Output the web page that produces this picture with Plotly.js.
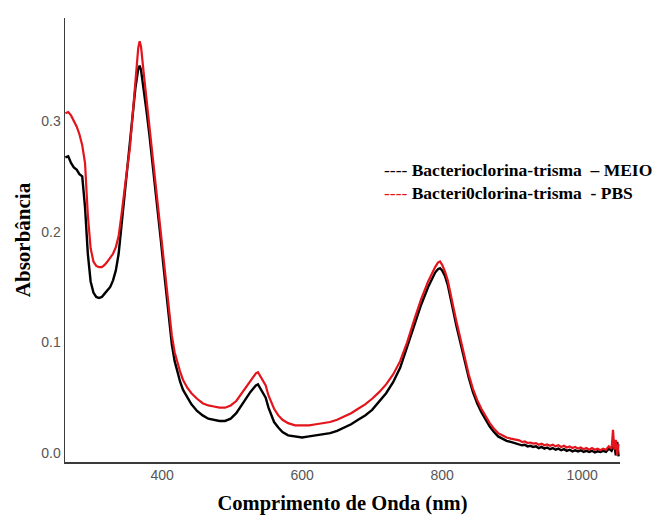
<!DOCTYPE html>
<html>
<head>
<meta charset="utf-8">
<script src="https://cdn.plot.ly/plotly-3.0.1.min.js"></script>
<style>html,body{margin:0;padding:0;background:#fff;}#chart{width:661px;height:515px;}</style>
</head>
<body>
<div id="chart"></div>
<script>
// Wavelength (nm)
const wavelength = [262,266,270,274,278,282,286,290,294,298,302,306,310,314,318,322,326,330,334,338,342,346,350,354,358,362,366,368,370,374,378,382,386,390,394,398,402,406,410,414,418,422,426,430,436,442,450,458,466,474,482,490,498,506,514,520,526,530,534,537,540,544,548,552,556,560,566,572,580,590,600,610,620,630,640,650,660,670,680,690,700,710,720,730,740,750,760,770,780,786,790,794,797,800,804,808,812,816,820,826,832,838,844,850,856,862,868,874,880,886,892,898,904,910,914,918,922,926,930,934,938,942,946,950,954,958,962,966,970,974,978,982,986,990,994,998,1002,1006,1010,1014,1018,1022,1026,1030,1034,1038,1042,1044,1046,1048,1050,1052];

// Bacterioclorina-trisma – MEIO (black)
const absMeio = [0.267,0.268,0.262,0.258,0.256,0.252,0.250,0.222,0.180,0.155,0.145,0.141,0.140,0.141,0.144,0.147,0.150,0.156,0.165,0.180,0.205,0.235,0.258,0.280,0.305,0.330,0.347,0.350,0.346,0.328,0.308,0.287,0.265,0.243,0.220,0.194,0.169,0.144,0.118,0.098,0.083,0.072,0.064,0.057,0.050,0.044,0.038,0.034,0.031,0.030,0.029,0.029,0.031,0.036,0.044,0.050,0.055,0.058,0.061,0.062,0.059,0.055,0.050,0.041,0.034,0.028,0.023,0.019,0.016,0.015,0.014,0.015,0.016,0.017,0.018,0.020,0.023,0.026,0.030,0.034,0.039,0.046,0.054,0.064,0.077,0.096,0.116,0.134,0.150,0.158,0.163,0.166,0.167,0.165,0.160,0.152,0.141,0.128,0.116,0.099,0.082,0.068,0.055,0.045,0.037,0.030,0.024,0.019,0.015,0.013,0.011,0.010,0.009,0.008,0.007,0.0075,0.006,0.0065,0.0055,0.006,0.0045,0.0055,0.004,0.005,0.0035,0.0045,0.003,0.004,0.0025,0.0035,0.002,0.003,0.0015,0.0025,0.0015,0.0025,0.001,0.002,0.001,0.002,0.0005,0.0015,0.001,0.002,0.001,0.004,0.002,0.005,0.008,-0.002,0.010,-0.003];

// Bacteri0clorina-trisma - PBS (red)
const absPbs = [0.307,0.308,0.305,0.300,0.295,0.288,0.278,0.262,0.215,0.185,0.173,0.169,0.168,0.168,0.170,0.173,0.176,0.180,0.186,0.196,0.215,0.237,0.256,0.275,0.305,0.338,0.366,0.372,0.367,0.342,0.318,0.294,0.271,0.248,0.224,0.198,0.175,0.150,0.125,0.106,0.091,0.081,0.073,0.066,0.059,0.054,0.049,0.045,0.043,0.042,0.041,0.041,0.043,0.047,0.054,0.060,0.065,0.069,0.072,0.073,0.070,0.066,0.061,0.052,0.046,0.040,0.034,0.030,0.027,0.025,0.025,0.025,0.026,0.027,0.028,0.030,0.033,0.036,0.040,0.044,0.049,0.055,0.062,0.071,0.083,0.100,0.120,0.139,0.155,0.163,0.168,0.172,0.173,0.170,0.164,0.156,0.145,0.132,0.120,0.103,0.086,0.071,0.058,0.048,0.040,0.033,0.027,0.022,0.018,0.016,0.014,0.013,0.012,0.0115,0.010,0.0105,0.009,0.0095,0.0085,0.009,0.0075,0.0085,0.007,0.0078,0.0065,0.0075,0.006,0.007,0.0055,0.0065,0.005,0.006,0.0045,0.0055,0.004,0.005,0.0035,0.0045,0.003,0.0045,0.003,0.004,0.0025,0.004,0.003,0.006,0.004,0.021,0.003,0.012,-0.002,0.008];

const seriesNames = ['Bacterioclorina-trisma\u00a0\u00a0– MEIO', 'Bacteri0clorina-trisma\u00a0\u00a0- PBS'];
const xTicks = [400, 600, 800, 1000];
const yTicks = [0.0, 0.1, 0.2, 0.3];
const yTickText = ['0.0', '0.1', '0.2', '0.3'];

const traces = [
  {x: wavelength, y: absMeio, type: 'scatter', mode: 'lines', name: seriesNames[0],
   line: {color: '#000000', width: 2.4}, showlegend: false},
  {x: wavelength, y: absPbs, type: 'scatter', mode: 'lines', name: seriesNames[1],
   line: {color: '#e3141b', width: 2.2}, showlegend: false}
];

const serif = 'Times New Roman, Liberation Serif, DejaVu Serif, serif';
const legendFont = {family: serif, size: 17.5, color: '#000', weight: 'bold'};
const layout = {
  width: 661, height: 515,
  margin: {l: 65, r: 41, t: 18, b: 53},
  paper_bgcolor: '#fff', plot_bgcolor: '#fff',
  xaxis: {
    range: [261.4, 1054], tickvals: xTicks, ticks: '', showgrid: false, zeroline: false,
    showline: true, linecolor: '#3a3a3a', linewidth: 1.5,
    tickfont: {family: 'Arial, Liberation Sans, sans-serif', size: 14, color: '#555'},
    title: {text: 'Comprimento de Onda (nm)', standoff: 16,
            font: {family: serif, size: 20.5, color: '#000', weight: 'bold'}}
  },
  yaxis: {
    range: [-0.0081, 0.393], tickvals: yTicks, ticktext: yTickText, ticks: '', showgrid: false, zeroline: false,
    showline: true, linecolor: '#3a3a3a', linewidth: 1.5,
    tickfont: {family: 'Arial, Liberation Sans, sans-serif', size: 14, color: '#555'},
    title: {text: 'Absorbância', standoff: 5,
            font: {family: serif, size: 21, color: '#000', weight: 'bold'}}
  },
  annotations: [
    {xref: 'paper', yref: 'paper', x: 0.572, y: 0.657, xanchor: 'left', yanchor: 'middle', showarrow: false,
     text: '<span style="color:#000;font-weight:normal">----</span> ' + seriesNames[0], font: legendFont},
    {xref: 'paper', yref: 'paper', x: 0.572, y: 0.605, xanchor: 'left', yanchor: 'middle', showarrow: false,
     text: '<span style="color:#e3141b;font-weight:normal">----</span> ' + seriesNames[1], font: legendFont}
  ]
};

Plotly.newPlot('chart', traces, layout, {staticPlot: true, displayModeBar: false});
</script>
</body>
</html>
